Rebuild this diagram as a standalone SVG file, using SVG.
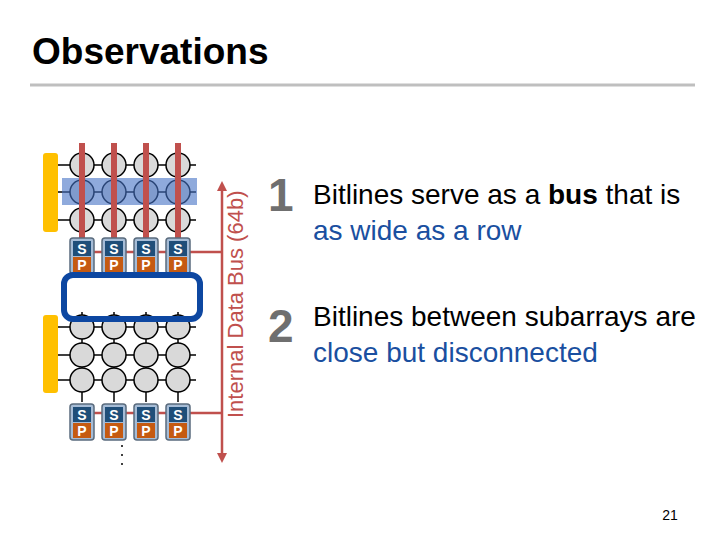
<svg xmlns="http://www.w3.org/2000/svg" width="720" height="540" viewBox="0 0 720 540">
<defs>
<style>
.cell{fill:#d9d9d9;stroke:#000;stroke-width:1.5}
.wl{stroke:#000;stroke-width:1.5}
.bl{stroke:#c0504d;stroke-width:6}
.red{stroke:#c0504d;stroke-width:2.5;fill:none}
.sp{fill:#a6bcd6;stroke:#5a6b7d;stroke-width:1.5}
.s{fill:#1f4e79}
.p{fill:#c55a11}
.spt{font-family:"Liberation Sans",Arial,sans-serif;font-weight:bold;font-size:14px;fill:#fff;text-anchor:middle}
.txt{font-family:"Liberation Sans",Arial,sans-serif;font-size:28px}
.num{font-family:"Liberation Sans",Arial,sans-serif;font-weight:bold;font-size:46px;fill:#6f6f6f}
</style>
<marker id="ah" viewBox="0 0 10 10" refX="5" refY="5" markerWidth="4" markerHeight="4" orient="auto-start-reverse"><path d="M0,0L10,5L0,10z" fill="#c0504d"/></marker>
<g id="sp"><rect class="sp" x="-12" y="0" width="24" height="36" rx="3"/><rect class="s" x="-9" y="3" width="18" height="15"/><rect class="p" x="-9" y="19" width="18" height="15"/><text class="spt" y="16">S</text><text class="spt" y="32">P</text></g>
</defs>
<rect width="720" height="540" fill="#fff"/>
<text x="32" y="64" font-family="Liberation Sans,Arial,sans-serif" font-weight="bold" font-size="37">Observations</text>
<line x1="30" y1="85" x2="695" y2="85" stroke="#bfbfbf" stroke-width="3"/>
<g id="wordlines">
<rect x="43" y="153" width="15" height="79" rx="3" fill="#ffc000"/>
<rect x="43" y="315" width="15" height="78" rx="3" fill="#ffc000"/>
<line class="wl" x1="58" y1="165" x2="196" y2="165"/><line class="wl" x1="58" y1="192" x2="196" y2="192"/><line class="wl" x1="58" y1="220" x2="196" y2="220"/>
<line class="wl" x1="58" y1="327" x2="196" y2="327"/><line class="wl" x1="58" y1="355" x2="196" y2="355"/><line class="wl" x1="58" y1="380" x2="196" y2="380"/>
</g>
<g id="connectors">
<line class="red" x1="90" y1="252" x2="222" y2="252"/>
<line class="red" x1="90" y1="413" x2="222" y2="413"/>
<line class="red" x1="222" y1="186" x2="222" y2="458" marker-start="url(#ah)" marker-end="url(#ah)"/>
<g class="wl"><line x1="82" y1="312" x2="82" y2="402"/><line x1="114" y1="312" x2="114" y2="402"/><line x1="146" y1="312" x2="146" y2="402"/><line x1="178" y1="312" x2="178" y2="402"/></g>
</g>
<g id="cells">
<g class="cell">
<circle cx="82" cy="165" r="12"/><circle cx="114" cy="165" r="12"/><circle cx="146" cy="165" r="12"/><circle cx="178" cy="165" r="12"/>
<circle cx="82" cy="192" r="12"/><circle cx="114" cy="192" r="12"/><circle cx="146" cy="192" r="12"/><circle cx="178" cy="192" r="12"/>
<circle cx="82" cy="220" r="12"/><circle cx="114" cy="220" r="12"/><circle cx="146" cy="220" r="12"/><circle cx="178" cy="220" r="12"/>
<circle cx="82" cy="327" r="12"/><circle cx="114" cy="327" r="12"/><circle cx="146" cy="327" r="12"/><circle cx="178" cy="327" r="12"/>
<circle cx="82" cy="355" r="12"/><circle cx="114" cy="355" r="12"/><circle cx="146" cy="355" r="12"/><circle cx="178" cy="355" r="12"/>
<circle cx="82" cy="380" r="12"/><circle cx="114" cy="380" r="12"/><circle cx="146" cy="380" r="12"/><circle cx="178" cy="380" r="12"/>
</g>
<rect x="62" y="178" width="135" height="27" fill="#4472c4" fill-opacity="0.6"/>
<g class="bl"><line x1="82" y1="143" x2="82" y2="240"/><line x1="114" y1="143" x2="114" y2="240"/><line x1="146" y1="143" x2="146" y2="240"/><line x1="178" y1="143" x2="178" y2="240"/></g>
</g>
<g id="senseamps">
<use href="#sp" x="82" y="238"/><use href="#sp" x="114" y="238"/><use href="#sp" x="146" y="238"/><use href="#sp" x="178" y="238"/>
<use href="#sp" x="82" y="404"/><use href="#sp" x="114" y="404"/><use href="#sp" x="146" y="404"/><use href="#sp" x="178" y="404"/>
</g>
<rect id="gap" x="64" y="275" width="136" height="44" rx="9" fill="none" stroke="#0d47a1" stroke-width="6"/>
<text x="0" y="0" transform="translate(243,418) rotate(-90)" font-family="Liberation Sans,Arial,sans-serif" font-size="22" fill="#c0504d">Internal Data Bus (64b)</text>
<g fill="#000"><circle cx="122" cy="446" r="1"/><circle cx="122" cy="455" r="1"/><circle cx="122" cy="464" r="1"/></g>
<text class="num" x="268" y="211">1</text>
<text class="txt" x="313" y="204">Bitlines serve as a <tspan font-weight="bold">bus</tspan> that is</text>
<text class="txt" x="313" y="240" fill="#1a4fa0">as wide as a row</text>
<text class="num" x="268" y="342">2</text>
<text class="txt" x="313" y="326">Bitlines between subarrays are</text>
<text class="txt" x="313" y="362" fill="#1a4fa0">close but disconnected</text>
<text x="670" y="520" text-anchor="middle" font-family="Liberation Sans,Arial,sans-serif" font-size="14">21</text>
</svg>
